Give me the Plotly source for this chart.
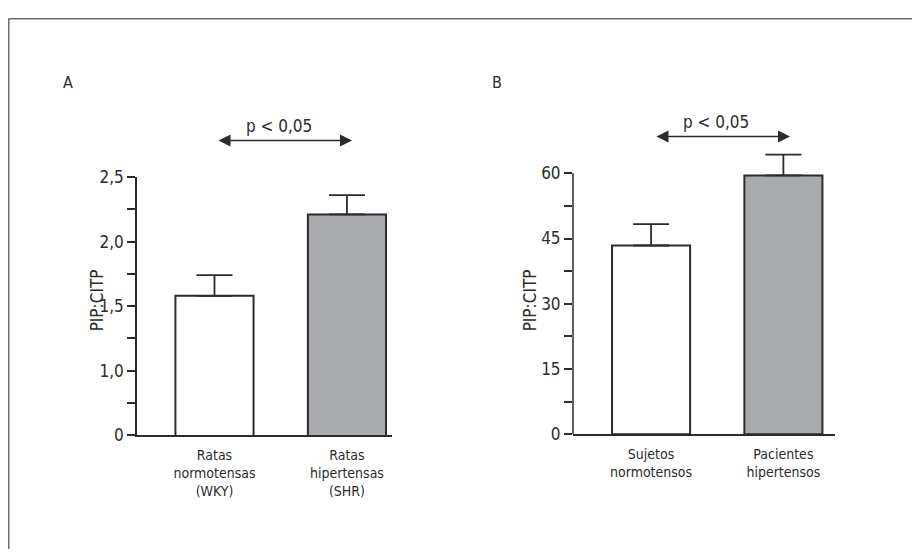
import plotly.graph_objects as go

# ---- data ----
categories_a = ["Ratas<br>normotensas<br>(WKY)", "Ratas<br>hipertensas<br>(SHR)"]
values_a = [1.58, 2.21]
errors_a = [0.16, 0.15]

categories_b = ["Sujetos<br>normotensos", "Pacientes<br>hipertensos"]
values_b = [43.4, 59.5]
errors_b = [4.9, 4.8]

ytick_vals_a = [0.5, 1.0, 1.5, 2.0, 2.5]
ytick_text_a = ["0", "1,0", "1,5", "2,0", "2,5"]
yminor_a = [0.75, 1.25, 1.75, 2.25]

ytick_vals_b = [0, 15, 30, 45, 60]
ytick_text_b = ["0", "15", "30", "45", "60"]
yminor_b = [7.5, 22.5, 37.5, 52.5]

bar_colors = ["#ffffff", "#a9aaad"]
p_text = "p < 0,05"
y_title = "PIP:CITP"

FONT = "Liberation Sans Narrow, Arial Narrow, DejaVu Sans Condensed, sans-serif"
INK = "#2b2b2b"
# page body has an 8px margin: figure is placed at (8, 8) in the window
OX, OY = 8, 8
W, H = 912, 551


def px(x):
    return (x - OX) / W


def py(y):
    return 1 - (y - OY) / H


fig = go.Figure()

fig.add_trace(go.Bar(
    x=categories_a, y=values_a, width=0.59,
    marker=dict(color=bar_colors, line=dict(color=INK, width=2)),
    error_y=dict(type="data", symmetric=False, array=errors_a,
                 arrayminus=[0] * len(errors_a), color=INK, thickness=1.8, width=18),
    xaxis="x", yaxis="y", showlegend=False, hoverinfo="skip"))

fig.add_trace(go.Bar(
    x=categories_b, y=values_b, width=0.59,
    marker=dict(color=bar_colors, line=dict(color=INK, width=2)),
    error_y=dict(type="data", symmetric=False, array=errors_b,
                 arrayminus=[0] * len(errors_b), color=INK, thickness=1.8, width=18),
    xaxis="x2", yaxis="y2", showlegend=False, hoverinfo="skip"))

xtickfont = dict(family=FONT, size=14, color=INK)
ytickfont = dict(family=FONT, size=17, color=INK)

fig.update_layout(
    width=W, height=H,
    margin=dict(l=0, r=0, t=0, b=0),
    paper_bgcolor="white", plot_bgcolor="white",
    font=dict(family=FONT, size=15, color=INK),
    xaxis=dict(domain=[px(137), px(392)], anchor="y", range=[-0.585, 1.34],
               showline=True, linecolor=INK, linewidth=1.5, ticks="",
               ticklabelstandoff=6,
               showgrid=False, zeroline=False, tickfont=xtickfont),
    yaxis=dict(domain=[py(441), py(173)], anchor="x", range=[0.5, 2.5],
               tickvals=ytick_vals_a, ticktext=ytick_text_a,
               ticks="outside", ticklen=8, tickwidth=1.5, tickcolor=INK,
               minor=dict(tickvals=yminor_a, ticks="outside", ticklen=8,
                          tickwidth=1.5, tickcolor=INK),
               showline=True, linecolor=INK, linewidth=1.5,
               showgrid=False, zeroline=False, tickfont=ytickfont),
    xaxis2=dict(domain=[px(573), px(835)], anchor="y2", range=[-0.59, 1.39],
                showline=True, linecolor=INK, linewidth=1.5, ticks="",
                ticklabelstandoff=6,
                showgrid=False, zeroline=False, tickfont=xtickfont),
    yaxis2=dict(domain=[py(440), py(142)], anchor="x2", range=[0, 66],
                tickvals=ytick_vals_b, ticktext=ytick_text_b,
                ticks="outside", ticklen=8, tickwidth=1.5, tickcolor=INK,
                minor=dict(tickvals=yminor_b, ticks="outside", ticklen=8,
                           tickwidth=1.5, tickcolor=INK),
                showline=False, showgrid=False, zeroline=False, tickfont=ytickfont),
)

# y axis line of panel B (ends at top tick)
fig.add_shape(type="line", xref="x2 domain", yref="y2", x0=0, x1=0,
              y0=ytick_vals_b[0], y1=ytick_vals_b[-1],
              line=dict(color=INK, width=1.5))

# outer frame
fig.add_shape(type="line", xref="paper", yref="paper", x0=px(8.75), x1=px(8.75),
              y0=0, y1=py(8.75), line=dict(color="#6b6b6b", width=1.5))
fig.add_shape(type="line", xref="paper", yref="paper", x0=px(8.75), x1=1,
              y0=py(8.75), y1=py(8.75), line=dict(color="#6b6b6b", width=1.5))

# panel letters
for letter, xx in (("A", 68), ("B", 497)):
    fig.add_annotation(text=letter, xref="paper", yref="paper", x=px(xx), y=py(75),
                       xanchor="center", yanchor="middle",
                       showarrow=False, font=dict(family=FONT, size=16, color=INK))

# y titles
for xx in (97, 530):
    fig.add_annotation(text=y_title, xref="paper", yref="paper", x=px(xx), y=py(301),
                       xanchor="center", yanchor="middle",
                       textangle=-90, showarrow=False,
                       font=dict(family=FONT, size=17, color=INK))

# significance arrows and text
for (x0, x1, yy, tx, ty) in ((217, 352, 135, 279, 120), (655, 790, 131, 716, 116)):
    fig.add_annotation(text="", xref="paper", yref="paper", x=px(x1), y=py(yy),
                       ax=-(x1 - x0), ay=0, showarrow=True, arrowside="end+start",
                       arrowhead=2, startarrowhead=2, arrowsize=1.6, startarrowsize=1.6,
                       arrowwidth=1.5, arrowcolor=INK, standoff=0, startstandoff=0)
    fig.add_annotation(text=p_text, xref="paper", yref="paper", x=px(tx), y=py(ty),
                       xanchor="center", yanchor="middle",
                       showarrow=False, font=dict(family=FONT, size=17, color=INK))

fig.write_html("out.html")
